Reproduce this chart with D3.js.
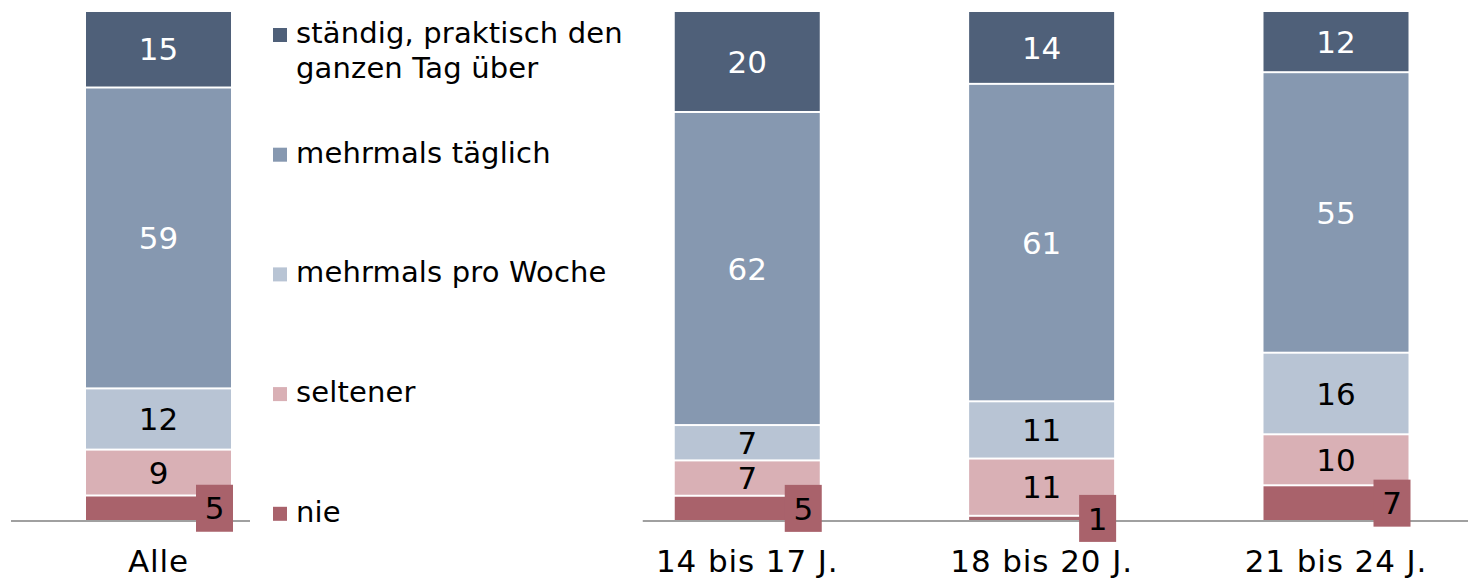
<!DOCTYPE html>
<html>
<head>
<meta charset="utf-8">
<script src="https://cdn.jsdelivr.net/npm/d3@7"></script>
<style>
  html, body { margin: 0; padding: 0; background: #fff; }
  svg { display: block; font-family: "DejaVu Sans", Verdana, sans-serif; }
</style>
</head>
<body>
<svg id="chart" width="1468" height="579"></svg>
<script>
// categories (the empty slot holds the legend)
const categories = ["Alle", "", "14 bis 17 J.", "18 bis 20 J.", "21 bis 24 J."];
const groups = ["Alle", "14 bis 17 J.", "18 bis 20 J.", "21 bis 24 J."];

// series, bottom to top
const seriesNames = ["nie", "seltener", "mehrmals pro Woche", "mehrmals täglich", "ständig, praktisch den ganzen Tag über"];
const nie = [5, 5, 1, 7];
const seltener = [9, 7, 11, 10];
const proWoche = [12, 7, 11, 16];
const taeglich = [59, 62, 61, 55];
const staendig = [15, 20, 14, 12];

const colors = ["#a9626b", "#d9b0b5", "#b8c4d4", "#8698b0", "#4f6079"];
const labelColors = ["#000", "#000", "#000", "#fff", "#fff"];

// legend lines, top to bottom
const legendItems = [
  { lines: ["ständig, praktisch den", "ganzen Tag über"], idx: 4 },
  { lines: ["mehrmals täglich"], idx: 3 },
  { lines: ["mehrmals pro Woche"], idx: 2 },
  { lines: ["seltener"], idx: 1 },
  { lines: ["nie"], idx: 0 }
];

const rows = groups.map((g, i) => ({
  group: g,
  "nie": nie[i],
  "seltener": seltener[i],
  "mehrmals pro Woche": proWoche[i],
  "mehrmals täglich": taeglich[i],
  "ständig, praktisch den ganzen Tag über": staendig[i]
}));

const svg = d3.select("#chart");
const baseline = 521, plotTop = 11, barW = 145;

const x = d3.scalePoint().domain(categories).range([158.5, 1336]);
const y = d3.scaleLinear().domain([0, 1]).range([baseline, plotTop]);

// percent stacks (each bar normalised to 100)
const stack = d3.stack().keys(seriesNames).offset(d3.stackOffsetExpand);
const stacked = stack(rows);

const layers = svg.append("g").selectAll("g")
  .data(stacked)
  .join("g")
  .attr("fill", (d, i) => colors[i]);

layers.selectAll("rect")
  .data(d => d)
  .join("rect")
  .attr("x", d => x(d.data.group) - barW / 2)
  .attr("y", d => y(d[1]) + 1)
  .attr("width", barW)
  .attr("height", d => Math.max(0, y(d[0]) - y(d[1]) - 2));

// axis line segments
const axisSegs = [
  [x("Alle") - 147.5, x("Alle") + 91.5],
  [x("14 bis 17 J.") - 104.5, 1468]
];
svg.append("g").selectAll("line")
  .data(axisSegs)
  .join("line")
  .attr("x1", d => d[0])
  .attr("x2", d => d[1])
  .attr("y1", baseline)
  .attr("y2", baseline)
  .attr("stroke", "#a0a0a0")
  .attr("stroke-width", 2);

// value labels
stacked.forEach((layer, si) => {
  const g = svg.append("g");
  layer.forEach(d => {
    const cx = x(d.data.group);
    const cy = (y(d[0]) + y(d[1])) / 2;
    const v = d.data[layer.key];
    if (si === 0) {
      // callout box for the "nie" values
      const bx = cx + barW / 2 + 2;
      g.append("rect")
        .attr("x", bx - 37)
        .attr("y", cy - 23.5)
        .attr("width", 37)
        .attr("height", 47)
        .attr("fill", colors[0]);
      g.append("text")
        .attr("x", bx - 18.5)
        .attr("y", cy)
        .attr("dy", "0.36em")
        .attr("text-anchor", "middle")
        .attr("font-size", 31)
        .attr("fill", labelColors[0])
        .text(v);
    } else {
      g.append("text")
        .attr("x", cx)
        .attr("y", cy)
        .attr("dy", "0.36em")
        .attr("text-anchor", "middle")
        .attr("font-size", 31)
        .attr("fill", labelColors[si])
        .text(v);
    }
  });
});

// category labels
svg.append("g").selectAll("text")
  .data(groups)
  .join("text")
  .attr("x", d => x(d))
  .attr("y", 572)
  .attr("text-anchor", "middle")
  .attr("font-size", 31)
  .attr("letter-spacing", 0.9)
  .attr("fill", "#000")
  .text(d => d);

// legend
const legend = svg.append("g").attr("transform", "translate(273,0)");
legendItems.forEach((item, i) => {
  const by = 43 + i * 119.7;
  legend.append("rect")
    .attr("x", 0)
    .attr("y", by - 15)
    .attr("width", 14)
    .attr("height", 14)
    .attr("fill", colors[item.idx]);
  item.lines.forEach((ln, j) => {
    legend.append("text")
      .attr("x", 23)
      .attr("y", by + j * 35)
      .attr("font-size", 29)
      .attr("letter-spacing", 0.15)
      .attr("fill", "#000")
      .text(ln);
  });
});
</script>
</body>
</html>
